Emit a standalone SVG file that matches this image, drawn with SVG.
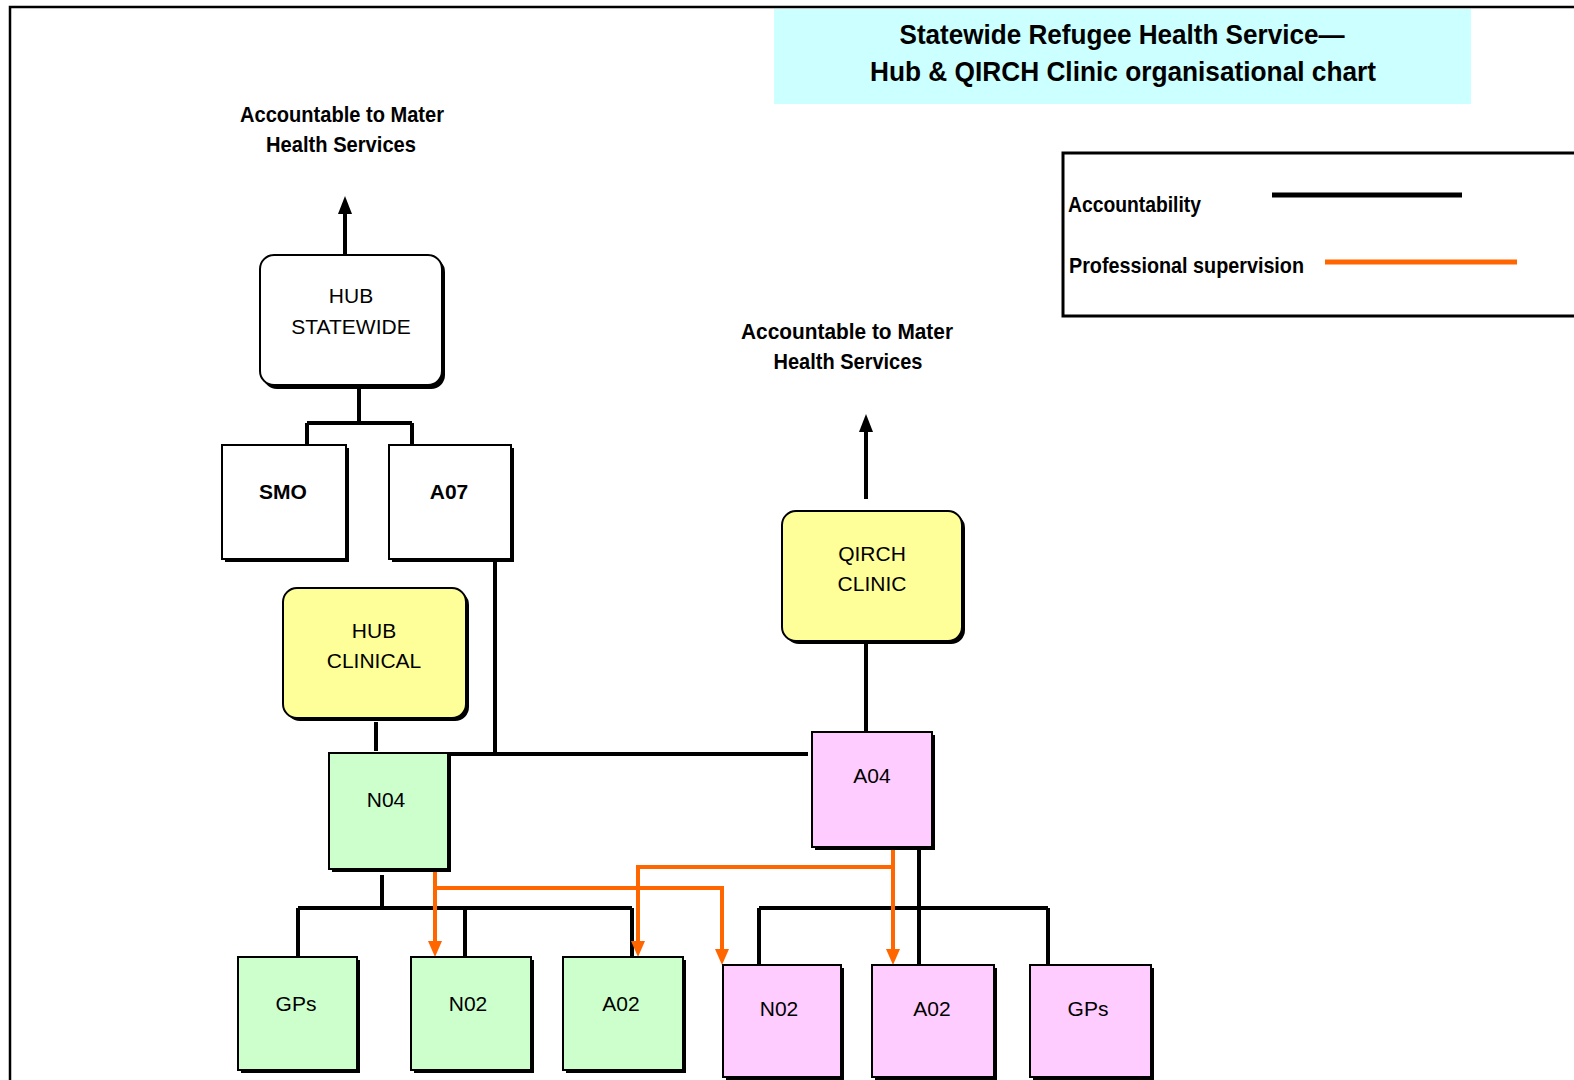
<svg xmlns="http://www.w3.org/2000/svg" width="1574" height="1080" viewBox="0 0 1574 1080">
<style>
.frame{fill:none;stroke:#000;stroke-width:2.5}
.box{stroke:#000;stroke-width:2}
.shadow{fill:#000}
.white{fill:#fff}
.yellow{fill:#FFFF99}
.green{fill:#CCFFCC}
.pink{fill:#FFCCFF}
.acc{fill:none;stroke:#000;stroke-width:4}
.sup{fill:none;stroke:#FF6600;stroke-width:4}
.lbl{font-family:"Liberation Sans",Arial,sans-serif;font-size:21px;fill:#000;text-anchor:middle}
.bold{font-weight:bold}
.heavy{font-family:"Liberation Sans",Arial,sans-serif;font-weight:bold;font-size:22px;fill:#000}
.title{font-family:"Liberation Sans",Arial,sans-serif;font-weight:bold;font-size:28px;fill:#000}
</style>
<defs>
<marker id="arrBlack" viewBox="0 0 18 14" refX="1" refY="7" markerWidth="18" markerHeight="14" markerUnits="userSpaceOnUse" orient="auto">
<path d="M0,0 L18,7 L0,14 Z" fill="#000"/>
</marker>
<marker id="arrOrange" viewBox="0 0 16 14" refX="1" refY="7" markerWidth="16" markerHeight="14" markerUnits="userSpaceOnUse" orient="auto">
<path d="M0,0 L16,7 L0,14 Z" fill="#FF6600"/>
</marker>
</defs>
<rect width="1574" height="1080" fill="#fff"/>
<path class="frame" d="M10,1080 L10,7 L1574,7"/>

<g id="title">
<rect x="774" y="9" width="697" height="95" fill="#CCFFFF"/>
<text class="title" x="1122" y="44" text-anchor="middle" textLength="445" lengthAdjust="spacingAndGlyphs">Statewide Refugee Health Service—</text>
<text class="title" x="1123" y="81" text-anchor="middle" textLength="506" lengthAdjust="spacingAndGlyphs">Hub &amp; QIRCH Clinic organisational chart</text>
</g>

<g id="legend">
<path d="M1574,153 L1063,153 L1063,316 L1574,316" fill="none" stroke="#000" stroke-width="3"/>
<text class="heavy" x="1068" y="212" textLength="133" lengthAdjust="spacingAndGlyphs">Accountability</text>
<line x1="1272" y1="195" x2="1462" y2="195" stroke="#000" stroke-width="5"/>
<text class="heavy" x="1069" y="273" textLength="235" lengthAdjust="spacingAndGlyphs">Professional supervision</text>
<line x1="1325" y1="262" x2="1517" y2="262" stroke="#FF6600" stroke-width="5"/>
</g>

<g id="label-hub">
<text class="heavy" x="342" y="122" text-anchor="middle" textLength="204" lengthAdjust="spacingAndGlyphs">Accountable to Mater</text>
<text class="heavy" x="341" y="152" text-anchor="middle" textLength="150" lengthAdjust="spacingAndGlyphs">Health Services</text>
</g>
<g id="label-qirch">
<text class="heavy" x="847" y="339" text-anchor="middle" textLength="212" lengthAdjust="spacingAndGlyphs">Accountable to Mater</text>
<text class="heavy" x="848" y="369" text-anchor="middle" textLength="149" lengthAdjust="spacingAndGlyphs">Health Services</text>
</g>

<g id="connectors">
<line class="acc" x1="345" y1="254" x2="345" y2="213" marker-end="url(#arrBlack)"/>
<line class="acc" x1="866" y1="499" x2="866" y2="431" marker-end="url(#arrBlack)"/>
<path class="acc" d="M359,389 V423 M307,423 H412 M307,423 V445 M412,423 V445"/>
<path class="acc" d="M495,561 V754 M448,754 H808"/>
<path class="acc" d="M376,722 V751"/>
<path class="acc" d="M866,643 V732"/>
<path class="acc" d="M382,875 V908 M298,908 H632 M298,908 V957 M465,908 V957 M632,908 V957"/>
<path class="acc" d="M919,850 V965 M759,908 H1048 M759,908 V965 M1048,908 V965"/>
<path class="sup" d="M435,871 V942" marker-end="url(#arrOrange)"/>
<path class="sup" d="M435,888 H722 V950" marker-end="url(#arrOrange)"/>
<path class="sup" d="M893,847 V950" marker-end="url(#arrOrange)"/>
<path class="sup" d="M893,867 H638 V942" marker-end="url(#arrOrange)"/>
</g>

<g id="hub-statewide">
<rect class="shadow" x="263" y="258" width="182" height="131" rx="14"/>
<rect class="box white" x="260" y="255" width="182" height="130" rx="14"/>
<text class="lbl" x="351" y="303">HUB</text>
<text class="lbl" x="351" y="334">STATEWIDE</text>
</g>
<g id="smo">
<rect class="shadow" x="225" y="448" width="124" height="114"/>
<rect class="box white" x="222" y="445" width="124" height="114"/>
<text class="lbl bold" x="283" y="499">SMO</text>
</g>
<g id="a07">
<rect class="shadow" x="392" y="448" width="122" height="114"/>
<rect class="box white" x="389" y="445" width="122" height="114"/>
<text class="lbl bold" x="449" y="499">A07</text>
</g>
<g id="hub-clinical">
<rect class="shadow" x="286" y="591" width="183" height="130" rx="14"/>
<rect class="box yellow" x="283" y="588" width="183" height="130" rx="14"/>
<text class="lbl" x="374" y="638">HUB</text>
<text class="lbl" x="374" y="668">CLINICAL</text>
</g>
<g id="qirch-clinic">
<rect class="shadow" x="785" y="514" width="180" height="130" rx="14"/>
<rect class="box yellow" x="782" y="511" width="180" height="130" rx="14"/>
<text class="lbl" x="872" y="561">QIRCH</text>
<text class="lbl" x="872" y="591">CLINIC</text>
</g>
<g id="n04">
<rect class="shadow" x="332" y="756" width="119" height="116"/>
<rect class="box green" x="329" y="753" width="119" height="116"/>
<text class="lbl" x="386" y="807">N04</text>
</g>
<g id="a04">
<rect class="shadow" x="815" y="735" width="120" height="115"/>
<rect class="box pink" x="812" y="732" width="120" height="115"/>
<text class="lbl" x="872" y="783">A04</text>
</g>
<g id="gps-hub">
<rect class="shadow" x="241" y="960" width="119" height="113"/>
<rect class="box green" x="238" y="957" width="119" height="113"/>
<text class="lbl" x="296" y="1011">GPs</text>
</g>
<g id="n02-hub">
<rect class="shadow" x="414" y="960" width="120" height="113"/>
<rect class="box green" x="411" y="957" width="120" height="113"/>
<text class="lbl" x="468" y="1011">N02</text>
</g>
<g id="a02-hub">
<rect class="shadow" x="566" y="960" width="120" height="113"/>
<rect class="box green" x="563" y="957" width="120" height="113"/>
<text class="lbl" x="621" y="1011">A02</text>
</g>
<g id="n02-qirch">
<rect class="shadow" x="726" y="968" width="118" height="112"/>
<rect class="box pink" x="723" y="965" width="118" height="112"/>
<text class="lbl" x="779" y="1016">N02</text>
</g>
<g id="a02-qirch">
<rect class="shadow" x="875" y="968" width="122" height="112"/>
<rect class="box pink" x="872" y="965" width="122" height="112"/>
<text class="lbl" x="932" y="1016">A02</text>
</g>
<g id="gps-qirch">
<rect class="shadow" x="1033" y="968" width="121" height="112"/>
<rect class="box pink" x="1030" y="965" width="121" height="112"/>
<text class="lbl" x="1088" y="1016">GPs</text>
</g>
</svg>
